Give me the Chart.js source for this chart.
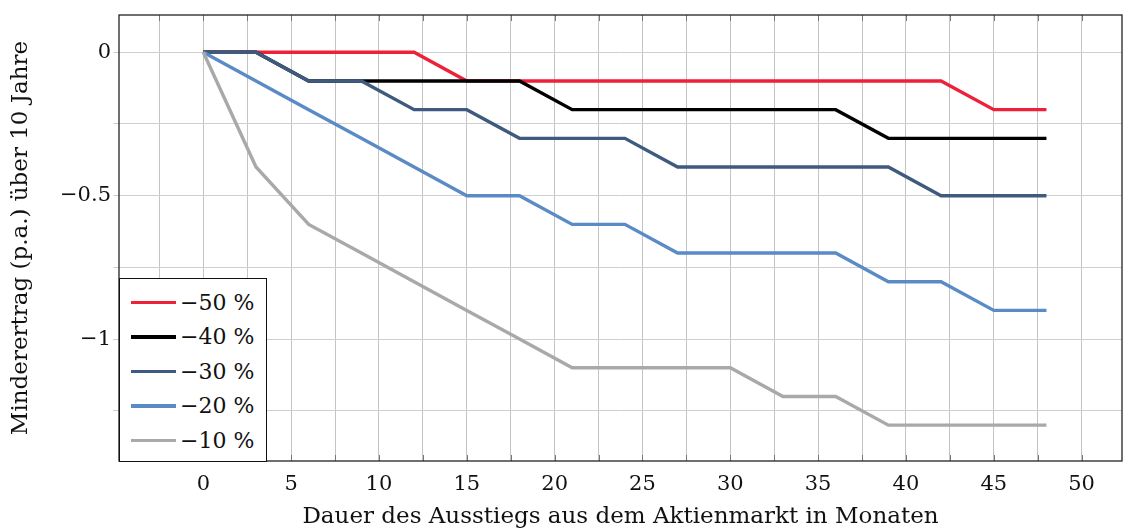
<!DOCTYPE html>
<html>
<head>
<meta charset="utf-8">
<script src="https://cdn.jsdelivr.net/npm/chart.js@4"></script>
<style>
  body { margin: 0; background: #fff; }
  #wrap { position: relative; width: 1124px; height: 530px; }
  #legend {
    position: absolute; left: 119px; top: 278px; width: 148px; height: 184px;
    border: 1.5px solid #111; background: #fff; box-sizing: border-box;
    font-family: "DejaVu Serif", serif; font-size: 22px; color: #111;
    padding-top: 6px;
  }
  .item { height: 34.5px; display: flex; align-items: center; }
  .swatch { width: 45px; height: 3.5px; margin-left: 11px; margin-right: 4px; }
</style>
</head>
<body>
<div id="wrap">
  <canvas id="chart" width="1124" height="530"></canvas>
  <div id="legend"></div>
</div>
<script>
// Monate
const months = [0, 3, 6, 9, 12, 15, 18, 21, 24, 27, 30, 33, 36, 39, 42, 45, 48];

const minus50 = [0, 0, 0, 0, 0, -0.1, -0.1, -0.1, -0.1, -0.1, -0.1, -0.1, -0.1, -0.1, -0.1, -0.2, -0.2];
const minus40 = [0, 0, -0.1, -0.1, -0.1, -0.1, -0.1, -0.2, -0.2, -0.2, -0.2, -0.2, -0.2, -0.3, -0.3, -0.3, -0.3];
const minus30 = [0, 0, -0.1, -0.1, -0.2, -0.2, -0.3, -0.3, -0.3, -0.4, -0.4, -0.4, -0.4, -0.4, -0.5, -0.5, -0.5];
const minus20 = [0, -0.1, -0.2, -0.3, -0.4, -0.5, -0.5, -0.6, -0.6, -0.7, -0.7, -0.7, -0.7, -0.8, -0.8, -0.9, -0.9];
const minus10 = [0, -0.4, -0.6, -0.7, -0.8, -0.9, -1.0, -1.1, -1.1, -1.1, -1.1, -1.2, -1.2, -1.3, -1.3, -1.3, -1.3];

const seriesNames = ['\u221250 %', '\u221240 %', '\u221230 %', '\u221220 %', '\u221210 %'];
const seriesColors = ['#ee2139', '#000000', '#3f5a7f', '#5b8bc7', '#a9a9a9'];

const xTickValues = [-2.5, 0, 2.5, 5, 7.5, 10, 12.5, 15, 17.5, 20, 22.5, 25, 27.5, 30, 32.5, 35, 37.5, 40, 42.5, 45, 47.5, 50];
const yTickValues = [-1.25, -1, -0.75, -0.5, -0.25, 0];
const yLabels = { '0': '0', '-0.5': '\u22120.5', '-1': '\u22121' };

const font = "'DejaVu Serif', serif";

function toPoints(vals) {
  return months.map((m, i) => ({ x: m, y: vals[i] }));
}

const allSeries = [minus50, minus40, minus30, minus20, minus10];
// spätere Reihen liegen oben (wie im Original)
const datasets = allSeries.map((vals, i) => ({
  label: seriesNames[i],
  data: toPoints(vals),
  borderColor: seriesColors[i],
  backgroundColor: seriesColors[i],
  borderWidth: 3.4,
  pointRadius: 0,
  tension: 0,
  order: allSeries.length - i
}));

// kleine Striche innen an oberer/unterer Kante
const innerTicks = {
  id: 'innerTicks',
  afterDraw(chart) {
    const ctx = chart.ctx;
    const a = chart.chartArea;
    const xs = chart.scales.x;
    ctx.save();
    ctx.strokeStyle = '#777';
    ctx.lineWidth = 1;
    xTickValues.forEach(v => {
      const px = Math.round(xs.getPixelForValue(v)) + 0.5;
      ctx.beginPath();
      ctx.moveTo(px, a.top); ctx.lineTo(px, a.top + 6);
      ctx.moveTo(px, a.bottom); ctx.lineTo(px, a.bottom - 6);
      ctx.stroke();
    });
    ctx.strokeStyle = '#222';
    ctx.lineWidth = 1.3;
    ctx.strokeRect(a.left, a.top, a.right - a.left, a.bottom - a.top);
    ctx.restore();
  }
};

new Chart(document.getElementById('chart'), {
  type: 'line',
  data: { datasets: datasets },
  options: {
    responsive: false,
    animation: false,
    layout: { padding: { top: 15, right: 2, left: 0, bottom: 0 } },
    plugins: { legend: { display: false }, tooltip: { enabled: false } },
    scales: {
      x: {
        type: 'linear',
        min: -4.8,
        max: 52.3,
        afterBuildTicks: axis => { axis.ticks = xTickValues.map(v => ({ value: v })); },
        afterFit: axis => { axis.height = 69; },
        grid: { color: '#c4c4c4', lineWidth: 1, drawTicks: false },
        border: { display: false },
        ticks: {
          padding: 11,
          color: '#111',
          font: { family: font, size: 21 },
          autoSkip: false,
          maxRotation: 0,
          callback: v => (v % 5 === 0 ? String(v) : '')
        },
        title: {
          display: true,
          text: 'Dauer des Ausstiegs aus dem Aktienmarkt in Monaten',
          color: '#111',
          font: { family: font, size: 23 },
          padding: { top: 2, bottom: -1 }
        }
      },
      y: {
        min: -1.425,
        max: 0.13,
        afterBuildTicks: axis => { axis.ticks = yTickValues.map(v => ({ value: v })); },
        afterFit: axis => { axis.width = 119; },
        grid: { color: '#cfcfcf', lineWidth: 1, drawTicks: true, tickLength: 6 },
        border: { display: false },
        ticks: {
          padding: 2,
          color: '#111',
          font: { family: font, size: 21 },
          autoSkip: false,
          callback: v => (yLabels[String(v)] !== undefined ? yLabels[String(v)] : '')
        },
        title: {
          display: true,
          text: 'Minderertrag (p.a.) über 10 Jahre',
          color: '#111',
          font: { family: font, size: 23 },
          padding: { top: 7, bottom: 0 }
        }
      }
    }
  },
  plugins: [innerTicks]
});

const legend = document.getElementById('legend');
seriesNames.forEach((name, i) => {
  const row = document.createElement('div');
  row.className = 'item';
  const sw = document.createElement('span');
  sw.className = 'swatch';
  sw.style.background = seriesColors[i];
  const txt = document.createElement('span');
  txt.textContent = name;
  row.appendChild(sw);
  row.appendChild(txt);
  legend.appendChild(row);
});
</script>
</body>
</html>
